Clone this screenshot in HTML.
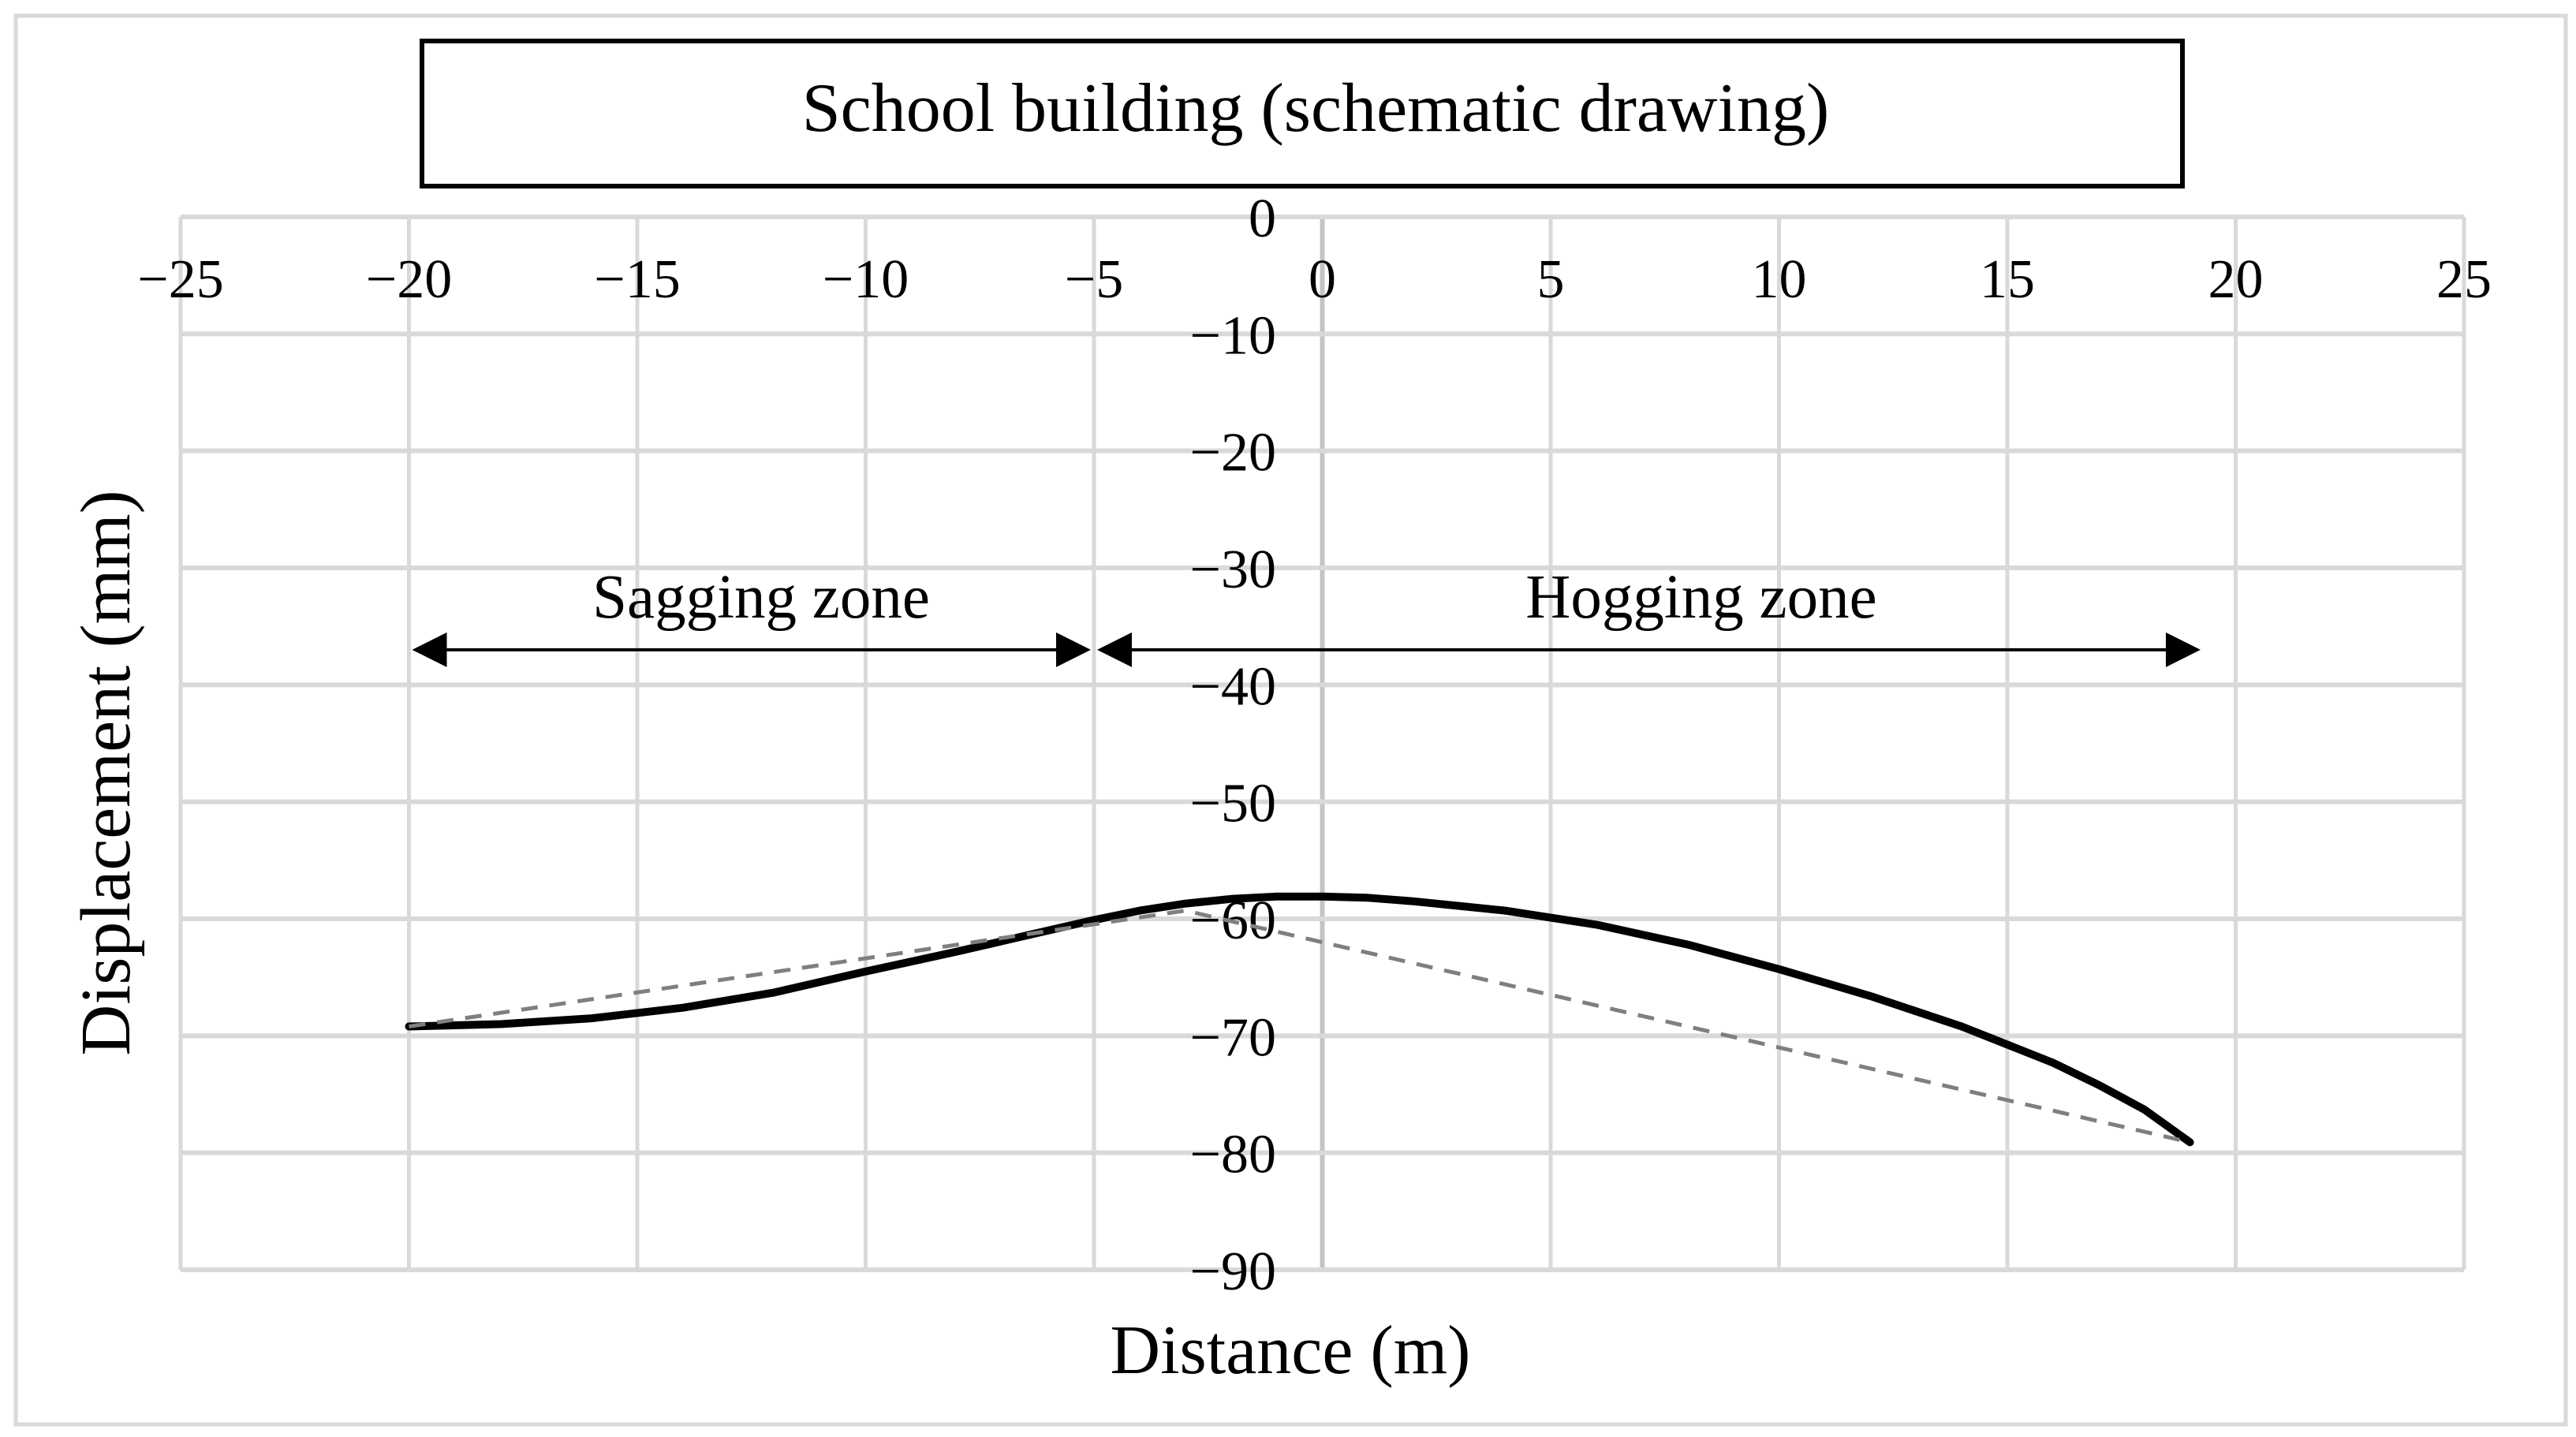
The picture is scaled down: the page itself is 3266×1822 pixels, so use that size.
<!DOCTYPE html>
<html><head><meta charset="utf-8">
<style>
html,body{margin:0;padding:0;background:#fff;}
svg{display:block;}
text{font-family:"Liberation Serif",serif;fill:#000;}
</style></head>
<body>
<svg id="chart" width="3266" height="1822" viewBox="0 0 3266 1822" xmlns="http://www.w3.org/2000/svg">
<rect x="20" y="20" width="3233" height="1786" fill="#fff" stroke="#d9d9d9" stroke-width="5"/>
<rect x="535" y="52" width="2232" height="184" fill="#fff" stroke="#000" stroke-width="6"/>
<text x="1668" y="166" font-size="88" text-anchor="middle">School building (schematic drawing)</text>
<g id="grid"></g>
<g id="labels"></g>
<g id="series"></g>
<g id="zones"></g>
<text x="1636" y="1741" font-size="88" text-anchor="middle">Distance (m)</text>
<text x="0" y="0" font-size="90" text-anchor="middle" transform="translate(164,980) rotate(-90)">Displacement (mm)</text>
</svg>
<script>
const xTicks = [-25,-20,-15,-10,-5,0,5,10,15,20,25];
const yTicks = [0,-10,-20,-30,-40,-50,-60,-70,-80,-90];
const solidX = [-20,-18,-16,-14,-12,-10,-8,-6,-5,-4,-3,-2,-1,0,1,2,4,6,8,10,12,14,16,17,18,19];
const solidY = [-69.2,-69,-68.5,-67.6,-66.3,-64.5,-62.8,-61,-60.1,-59.3,-58.7,-58.3,-58.1,-58.1,-58.2,-58.5,-59.3,-60.5,-62.2,-64.3,-66.6,-69.2,-72.3,-74.2,-76.3,-79.1];
const dashX = [-20,-3,19];
const dashY = [-69.2,-59.3,-79.1];
const zoneNames = ["Sagging zone","Hogging zone"];
const zoneStart = [-20,-5];
const zoneEnd = [-5,19.3];
const zoneY = -37;

const NS='http://www.w3.org/2000/svg';
const X0=229, X1=3124, Y0=275, Y1=1610;
const xs = v => X0 + (v+25)/50*(X1-X0);
const ys = v => Y0 + (0-v)/90*(Y1-Y0);
function mk(tag, attrs, parent){const e=document.createElementNS(NS,tag);for(const k in attrs)e.setAttribute(k,attrs[k]);parent.appendChild(e);return e;}
const grid=document.getElementById('grid'), labels=document.getElementById('labels'), series=document.getElementById('series'), zones=document.getElementById('zones');

xTicks.forEach(t=>{
  const l=mk('line',{x1:xs(t),x2:xs(t),y1:Y0,y2:Y1,stroke:t===0?'#c4c4c4':'#d9d9d9','stroke-width':t===0?6:5},grid);
  
  
  const tx=mk('text',{x:xs(t),y:377,'font-size':70,'text-anchor':'middle'},labels);
  tx.textContent=(t<0?'\u2212':'')+Math.abs(t);
  
  
});
yTicks.forEach(t=>{
  const l=mk('line',{x1:X0,x2:X1,y1:ys(t),y2:ys(t),stroke:'#d9d9d9','stroke-width':6},grid);
  
  
  const tx=mk('text',{x:1618,y:ys(t)+25,'font-size':70,'text-anchor':'end'},labels);
  tx.textContent=(t<0?'\u2212':'')+Math.abs(t);
  
  
});

let d='';
solidX.forEach((v,i)=>{d+=(i?' L':'M')+xs(v).toFixed(1)+' '+ys(solidY[i]).toFixed(1);});
const sp=mk('path',{d:d,fill:'none',stroke:'#000','stroke-width':10,'stroke-linejoin':'round','stroke-linecap':'round'},series);


let d2='';
dashX.forEach((v,i)=>{d2+=(i?' L':'M')+xs(v).toFixed(1)+' '+ys(dashY[i]).toFixed(1);});
const dp=mk('path',{d:d2,fill:'none',stroke:'#7f7f7f','stroke-width':5,'stroke-dasharray':'21 15'},series);



zoneNames.forEach((n,i)=>{
  const a=xs(zoneStart[i])+4, b=xs(zoneEnd[i])-4, y=ys(zoneY), L=44, H=22;
  const ln=mk('line',{x1:a+L,x2:b-L,y1:y,y2:y,stroke:'#000','stroke-width':4},zones);
  
  
  const h1=mk('polygon',{points:`${a},${y} ${a+L},${y-H} ${a+L},${y+H}`,fill:'#000'},zones);
  
  
  const h2=mk('polygon',{points:`${b},${y} ${b-L},${y-H} ${b-L},${y+H}`,fill:'#000'},zones);
  
  
  const tx=mk('text',{x:(i===0?965:2157),y:783,'font-size':79,'text-anchor':'middle'},zones);
  tx.textContent=n;
  
  
});
</script>
</body></html>
